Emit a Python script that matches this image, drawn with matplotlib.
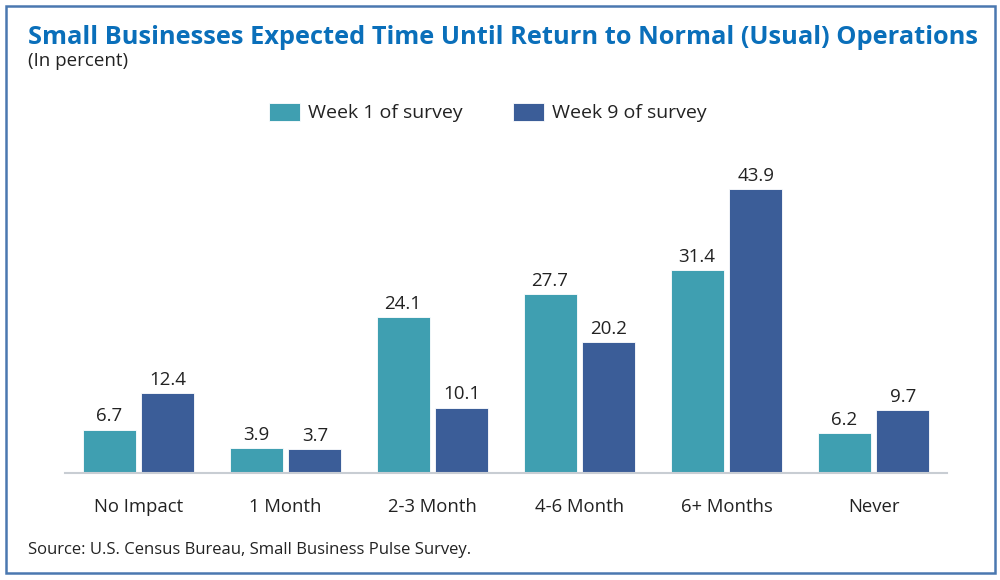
import matplotlib
matplotlib.use("Agg")
import matplotlib.pyplot as plt
from matplotlib.patches import Rectangle
import numpy as np

categories = ["No Impact", "1 Month", "2-3 Month", "4-6 Month", "6+ Months", "Never"]
week1 = [6.7, 3.9, 24.1, 27.7, 31.4, 6.2]
week9 = [12.4, 3.7, 10.1, 20.2, 43.9, 9.7]
series_names = ["Week 1 of survey", "Week 9 of survey"]

plt.rcParams['font.family'] = ['Open Sans', 'DejaVu Sans']

c1 = "#3F9FB1"
c9 = "#3B5D98"
text_c = "#222222"

fig = plt.figure(figsize=(10, 5.8), dpi=100)
ax = fig.add_axes([0.065, 0.1845, 0.882, 0.558])

x = np.arange(len(categories))
w = 0.36
off = 0.2
b1 = ax.bar(x - off, week1, w, color=c1, edgecolor="white", linewidth=0.6, label=series_names[0])
b9 = ax.bar(x + off, week9, w, color=c9, edgecolor="white", linewidth=0.6, label=series_names[1])
for bars, vals in ((b1, week1), (b9, week9)):
    for r, v in zip(bars, vals):
        ax.annotate(f"{v:.1f}", (r.get_x() + r.get_width() / 2, v), xytext=(0, 3),
                    textcoords="offset points", ha="center", va="bottom",
                    fontsize=13.5, color=text_c)

ax.set_xlim(-0.5, 5.5)
ax.set_ylim(0, 50)
ax.set_yticks([])
ax.set_xticks(x)
ax.set_xticklabels(categories, fontsize=13.3, color=text_c)
ax.tick_params(axis="x", length=0, pad=18)
for s in ["top", "right", "left"]:
    ax.spines[s].set_visible(False)
ax.spines["bottom"].set_color("#C8CDD3")
ax.spines["bottom"].set_linewidth(1.5)

leg = fig.legend(handles=[b1, b9], loc="center", bbox_to_anchor=(0.488, 0.806), ncol=2,
                 frameon=False, fontsize=14, handlelength=1.6, handleheight=1.1,
                 columnspacing=2.6, handletextpad=0.4)
for t in leg.get_texts():
    t.set_color(text_c)

fig.text(0.028, 0.935, "Small Businesses Expected Time Until Return to Normal (Usual) Operations",
         fontsize=18.3, fontweight="bold", color="#0A6FBA", ha="left", va="center")
fig.text(0.028, 0.894, "(In percent)", fontsize=13.5, color=text_c, ha="left", va="center")
fig.text(0.028, 0.051, "Source: U.S. Census Bureau, Small Business Pulse Survey.",
         fontsize=12, color=text_c, ha="left", va="center")

fig.patches.append(Rectangle((0.006, 0.012), 0.989, 0.978, transform=fig.transFigure,
                             fill=False, edgecolor="#4A78B0", linewidth=1.8))

fig.savefig("out.png", dpi=100, facecolor="white")
